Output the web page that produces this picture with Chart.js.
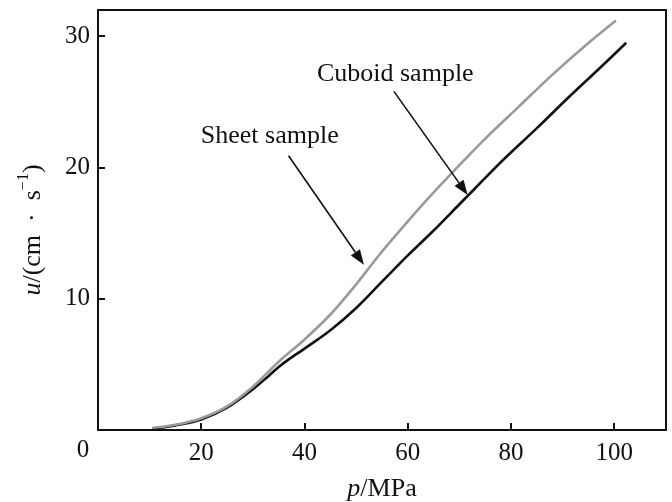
<!DOCTYPE html>
<html>
<head>
<meta charset="utf-8">
<script src="https://cdn.jsdelivr.net/npm/chart.js@4/dist/chart.umd.min.js"></script>
<style>
  html, body { margin: 0; padding: 0; background: #fff; }
  #wrap { width: 672px; height: 502px; }
</style>
</head>
<body>
<div id="wrap"><canvas id="c" width="672" height="502"></canvas></div>
<script>
// ---- data ----
const sheetP = [10.5, 15, 20, 25, 30, 35, 40, 45, 50, 55, 60, 65, 72, 75, 81.4, 87.8, 94.4, 100.3];
const sheetU = [0.15, 0.4, 0.9, 1.8, 3.3, 5.2, 6.9, 8.8, 11.1, 13.6, 15.9, 18.1, 21.0, 22.2, 24.6, 27.0, 29.3, 31.2];
const cuboidP = [10.5, 15, 20, 25, 30, 33, 35, 37, 40, 45, 50, 55, 60, 65, 70, 73, 78, 85, 91, 97.5, 102.3];
const cuboidU = [0.1, 0.35, 0.8, 1.7, 3.1, 4.1, 4.8, 5.4, 6.2, 7.6, 9.3, 11.3, 13.3, 15.2, 17.2, 18.4, 20.4, 23.0, 25.3, 27.7, 29.5];
const xTickValues = [0, 20, 40, 60, 80, 100];
const yTickValues = [10, 20, 30];
const seriesNames = ['Sheet sample', 'Cuboid sample'];
// annotation arrows in data units: [startP, startU, tipP, tipU]
const sheetArrow = [36.9, 20.9, 51.5, 12.6];
const cuboidArrow = [57.3, 25.8, 71.6, 17.9];
// annotation label anchors (left edge, vertical middle) in data units
const sheetLabelPos = [19.9, 22.4];
const cuboidLabelPos = [42.4, 27.1];

const FONT = "'Liberation Serif', 'Times New Roman', serif";

function pts(px, py) { return px.map((v, i) => ({ x: v, y: py[i] })); }

const framePlugin = {
  id: 'frame',
  afterDraw(chart) {
    const { ctx, chartArea: a, scales: { x, y } } = chart;
    ctx.save();
    ctx.strokeStyle = '#111';
    ctx.lineWidth = 2;
    ctx.strokeRect(a.left, a.top, a.right - a.left, a.bottom - a.top);
    xTickValues.forEach(v => {
      if (v === 0) return;
      const px = Math.round(x.getPixelForValue(v));
      ctx.beginPath(); ctx.moveTo(px, a.bottom); ctx.lineTo(px, a.bottom - 7); ctx.stroke();
    });
    yTickValues.forEach(v => {
      const py = Math.round(y.getPixelForValue(v));
      ctx.beginPath(); ctx.moveTo(a.left, py); ctx.lineTo(a.left + 7, py); ctx.stroke();
    });
    ctx.fillStyle = '#111';
    ctx.font = '25px ' + FONT;
    ctx.textAlign = 'center';
    ctx.textBaseline = 'middle';
    ctx.fillText('0', x.getPixelForValue(0) - 15, a.bottom + 20);

    function arrow(arr) {
      const x0 = x.getPixelForValue(arr[0]), y0 = y.getPixelForValue(arr[1]);
      const x1 = x.getPixelForValue(arr[2]), y1 = y.getPixelForValue(arr[3]);
      const ang = Math.atan2(y1 - y0, x1 - x0);
      const L = 15, W = 5.5;
      const bx = x1 - L * Math.cos(ang), by = y1 - L * Math.sin(ang);
      ctx.strokeStyle = '#111'; ctx.lineWidth = 1.6;
      ctx.beginPath(); ctx.moveTo(x0, y0); ctx.lineTo(bx, by); ctx.stroke();
      ctx.beginPath();
      ctx.moveTo(x1, y1);
      ctx.lineTo(bx + W * Math.sin(ang), by - W * Math.cos(ang));
      ctx.lineTo(bx - W * Math.sin(ang), by + W * Math.cos(ang));
      ctx.closePath(); ctx.fill();
    }
    arrow(sheetArrow);
    arrow(cuboidArrow);
    ctx.font = '26px ' + FONT;
    ctx.textAlign = 'left';
    ctx.textBaseline = 'middle';
    ctx.fillText(seriesNames[0], x.getPixelForValue(sheetLabelPos[0]), y.getPixelForValue(sheetLabelPos[1]));
    ctx.fillText(seriesNames[1], x.getPixelForValue(cuboidLabelPos[0]), y.getPixelForValue(cuboidLabelPos[1]));

    // x title: p/MPa
    const cx = (a.left + a.right) / 2, ty = 489;
    ctx.textBaseline = 'middle';
    ctx.font = 'italic 26px ' + FONT;
    const w1 = ctx.measureText('p').width;
    ctx.font = '26px ' + FONT;
    const w2 = ctx.measureText('/MPa').width;
    let sx = cx - (w1 + w2) / 2;
    ctx.font = 'italic 26px ' + FONT; ctx.fillText('p', sx, ty);
    ctx.font = '26px ' + FONT; ctx.fillText('/MPa', sx + w1, ty);

    // y title: u/(cm · s^-1)
    ctx.save();
    ctx.translate(33, 230);
    ctx.rotate(-Math.PI / 2);
    const parts = [
      { t: 'u', f: 'italic 26px ' + FONT, dy: 0 },
      { t: '/(cm \u00A0\u00B7\u00A0 s', f: '26px ' + FONT, dy: 0 },
      { t: '\u22121', f: '16px ' + FONT, dy: -9 },
      { t: ')', f: '26px ' + FONT, dy: 0 }
    ];
    let total = 0;
    parts.forEach(p => { ctx.font = p.f; p.w = ctx.measureText(p.t).width; total += p.w; });
    let px = -total / 2;
    parts.forEach(p => { ctx.font = p.f; ctx.fillText(p.t, px, p.dy); px += p.w; });
    ctx.restore();
    ctx.restore();
  }
};

new Chart(document.getElementById('c'), {
  type: 'line',
  data: {
    datasets: [
      { label: seriesNames[0], data: pts(sheetP, sheetU), borderColor: '#9a9a9a', borderWidth: 2.6,
        pointRadius: 0, fill: false, cubicInterpolationMode: 'monotone' },
      { label: seriesNames[1], data: pts(cuboidP, cuboidU), borderColor: '#111111', borderWidth: 2.6,
        pointRadius: 0, fill: false, cubicInterpolationMode: 'monotone' }
    ]
  },
  options: {
    responsive: false,
    animation: false,
    events: [],
    layout: { padding: { left: 0, right: 6, top: 10, bottom: 0 } },
    plugins: { legend: { display: false }, tooltip: { enabled: false } },
    scales: {
      x: {
        type: 'linear', min: 0, max: 110,
        grid: { display: false, drawTicks: false },
        border: { display: false },
        afterBuildTicks: s => { s.ticks = xTickValues.filter(v => v !== 0).map(v => ({ value: v })); },
        afterFit: s => { s.height = 72; s.paddingLeft = 0; s.paddingRight = 0; },
        ticks: { color: '#111', padding: 8, font: { family: FONT, size: 25 } }
      },
      y: {
        type: 'linear', min: 0, max: 32,
        grid: { display: false, drawTicks: false },
        border: { display: false },
        afterBuildTicks: s => { s.ticks = yTickValues.map(v => ({ value: v })); },
        afterFit: s => { s.width = 98; s.paddingTop = 0; s.paddingBottom = 0; },
        ticks: { color: '#111', padding: 8, font: { family: FONT, size: 25 } }
      }
    }
  },
  plugins: [framePlugin]
});
</script>
</body>
</html>
